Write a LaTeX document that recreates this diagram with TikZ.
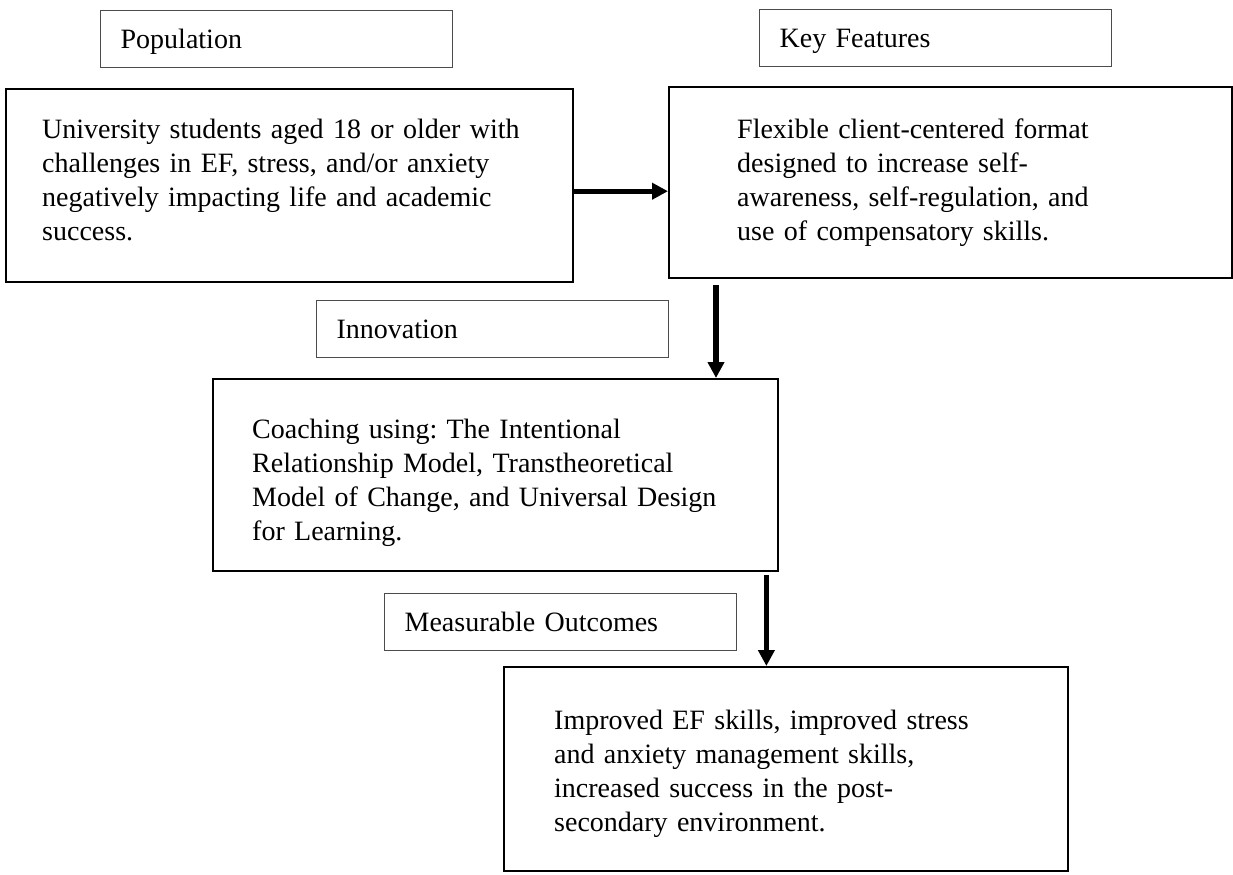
\documentclass[tikz,border=0pt]{standalone}
\usepackage{fontspec}
\setmainfont{Liberation Serif}
\usepackage{tikz}
\usetikzlibrary{arrows.meta}
\frenchspacing

\begin{document}
\begin{tikzpicture}[x=0.5pt,y=-0.5pt,
  every node/.style={font=\fontsize{14}{17}\selectfont},
  tag/.style={draw=black!70, line width=0.65pt, anchor=north west, inner xsep=10pt, inner ysep=0pt, text width=156pt, align=left, text height=19pt, text depth=9.5pt},
  box/.style={draw, line width=1.2pt, anchor=north west, inner ysep=0pt, align=left},
  link/.style={line width=2.7pt, -{Triangle[length=8pt,width=8pt]}}]
\useasboundingbox (0,0) rectangle (1233,874);
% headings
\node[tag] (pop) at (100,10) {Population};
\node[tag] (feat) at (759,9) {Key Features};
\node[tag] (innov) at (316,300) {Innovation};
\node[tag] (outc) at (384,593) {Measurable Outcomes};
% boxes
\node[box, inner xsep=18pt, text width=247.5pt, text height=24.5pt, text depth=72pt] (popbox) at (5,88) {University students aged 18 or older with\\ challenges in EF, stress, and/or anxiety\\ negatively impacting life and academic\\ success.};
\node[box, inner xsep=34pt, text width=213.5pt, text height=25.5pt, text depth=70pt] (featbox) at (668,86) {Flexible client-centered format\\ designed to increase self-\\ awareness, self-regulation, and\\ use of compensatory skills.};
\node[box, inner xsep=19.5pt, text width=243.5pt, text height=29.5pt, text depth=66.5pt] (innovbox) at (212,378) {Coaching using: The Intentional\\ Relationship Model, Transtheoretical\\ Model of Change, and Universal Design\\ for Learning.};
\node[box, inner xsep=25pt, text width=232pt, text height=31pt, text depth=71pt] (outcbox) at (503,666) {Improved EF skills, improved stress\\ and anxiety management skills,\\ increased success in the post-\\ secondary environment.};
% arrows
\draw[link] ([yshift=-2.75pt]popbox.east) -- ([yshift=-2.75pt]popbox.east -| featbox.west);
\draw[link] ([shift={(24pt,-3pt)}]featbox.south west) -- ([xshift=24pt]featbox.south west |- innovbox.north);
\draw[link] ([shift={(-6.5pt,-1.5pt)}]innovbox.south east) -- ([xshift=-6.5pt]innovbox.south east |- outcbox.north);
\end{tikzpicture}
\end{document}
